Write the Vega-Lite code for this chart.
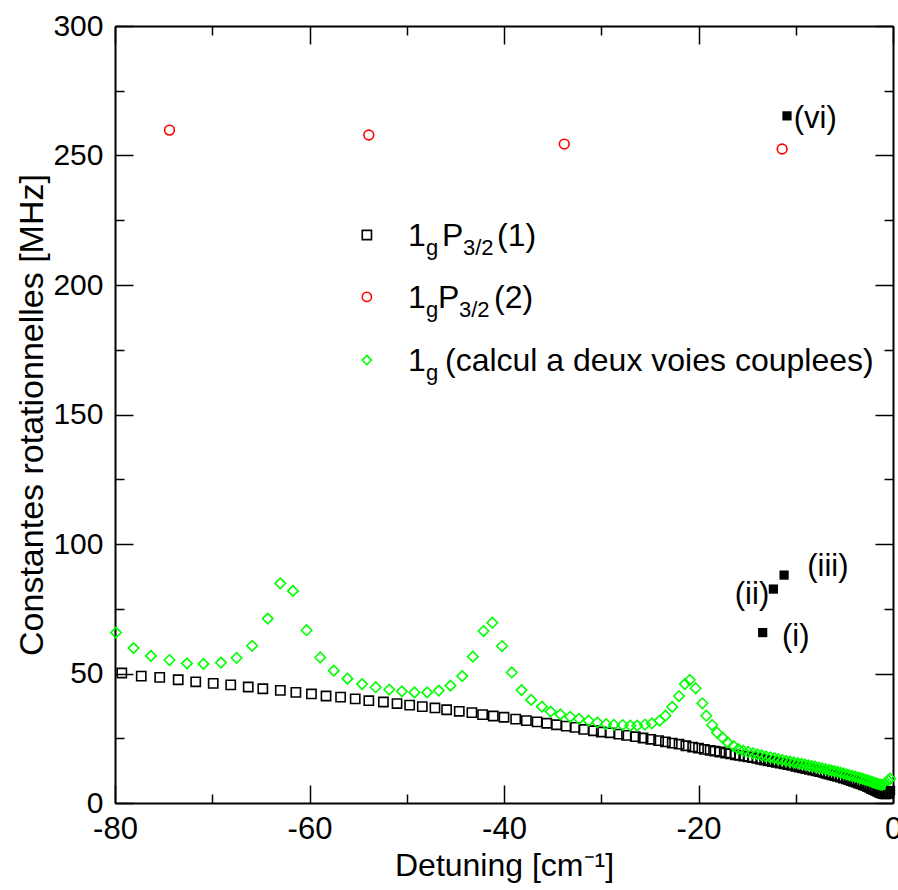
{
"$schema": "https://vega.github.io/schema/vega-lite/v6.json",
"width": 778, "height": 777,
"autosize": "none",
"padding": {"left": 115, "top": 26, "right": 5, "bottom": 87},
"background": "white",
"config": {"view": {"stroke": null}, "axis": {"grid": false, "labelFlush": false, "domainColor": "black", "tickColor": "black", "labelColor": "black", "titleColor": "black", "labelFont": "Liberation Sans", "titleFont": "Liberation Sans", "titleFontWeight": "normal"}},
"datasets": {
"black": [
{"x":-79.3,"y":50.2},{"x":-77.3,"y":49.0},{"x":-75.4,"y":48.5},{"x":-73.5,"y":47.6},{"x":-71.7,"y":46.8},{"x":-69.9,"y":46.2},{"x":-68.1,"y":45.6},{"x":-66.3,"y":44.8},{"x":-64.8,"y":44.1},{"x":-63.0,"y":43.5},{"x":-61.4,"y":42.7},{"x":-59.8,"y":42.1},{"x":-58.3,"y":41.3},{"x":-56.8,"y":40.9},{"x":-55.3,"y":40.2},{"x":-53.9,"y":39.5},{"x":-52.4,"y":39.0},{"x":-51.0,"y":38.4},{"x":-49.7,"y":37.8},{"x":-48.4,"y":37.2},{"x":-47.1,"y":36.7},{"x":-45.9,"y":36.0},{"x":-44.6,"y":35.4},{"x":-43.3,"y":34.9},
{"x":-42.2,"y":34.1},{"x":-41.1,"y":33.6},{"x":-40.0,"y":33.1},{"x":-38.8,"y":32.4},{"x":-37.7,"y":31.8},{"x":-36.6,"y":31.3},{"x":-35.6,"y":30.8},{"x":-34.6,"y":30.2},{"x":-33.6,"y":29.7},{"x":-32.7,"y":29.2},{"x":-31.8,"y":28.4},{"x":-30.8,"y":27.9},{"x":-30.0,"y":27.4},{"x":-29.1,"y":27.1},{"x":-28.2,"y":26.6},{"x":-27.4,"y":26.1},{"x":-26.5,"y":25.6},{"x":-25.7,"y":25.1},{"x":-24.9,"y":24.6},{"x":-24.1,"y":24.1},{"x":-23.4,"y":23.6},{"x":-22.7,"y":23.1},{"x":-22.0,"y":22.7},{"x":-21.3,"y":22.1},{"x":-20.6,"y":21.6},{"x":-20.0,"y":21.2},{"x":-19.4,"y":20.7},{"x":-18.8,"y":20.3},{"x":-18.3,"y":20.0},{"x":-17.8,"y":19.7},{"x":-17.2,"y":19.3},{"x":-16.7,"y":19.0},{"x":-16.2,"y":18.6},{"x":-15.8,"y":18.4},
{"x":-15.35,"y":18.1},{"x":-14.9,"y":17.8},{"x":-14.45,"y":17.5},{"x":-14.0,"y":17.2},{"x":-13.6,"y":16.9},{"x":-13.2,"y":16.6},{"x":-12.8,"y":16.3},{"x":-12.4,"y":16.0},{"x":-12.0,"y":15.7},{"x":-11.6,"y":15.4},{"x":-11.2,"y":15.1},{"x":-10.8,"y":14.8},{"x":-10.4,"y":14.5},{"x":-10.0,"y":14.2},{"x":-9.65,"y":13.9},{"x":-9.3,"y":13.6},{"x":-8.95,"y":13.3},{"x":-8.6,"y":13.0},{"x":-8.25,"y":12.7},{"x":-7.9,"y":12.4},{"x":-7.55,"y":12.1},{"x":-7.2,"y":11.8},{"x":-6.9,"y":11.5},{"x":-6.6,"y":11.2},{"x":-6.3,"y":10.9},{"x":-6.0,"y":10.6},{"x":-5.7,"y":10.3},{"x":-5.4,"y":10.0},{"x":-5.1,"y":9.6},{"x":-4.8,"y":9.3},{"x":-4.55,"y":9.0},{"x":-4.3,"y":8.7},{"x":-4.05,"y":8.4},{"x":-3.8,"y":8.1},{"x":-3.55,"y":7.7},{"x":-3.3,"y":7.4},{"x":-3.05,"y":7.0},{"x":-2.8,"y":6.7},{"x":-2.6,"y":6.3},{"x":-2.4,"y":6.0},{"x":-2.2,"y":5.6},{"x":-2.0,"y":5.3},{"x":-1.8,"y":4.9},{"x":-1.6,"y":4.6},{"x":-1.45,"y":4.3},{"x":-1.3,"y":4.0},{"x":-1.15,"y":3.8},{"x":-1.0,"y":3.6},{"x":-0.85,"y":3.5},{"x":-0.7,"y":3.5},{"x":-0.55,"y":3.7},{"x":-0.4,"y":4.1}
],
"green": [
{"x":-79.9,"y":65.8},{"x":-78.1,"y":59.8},{"x":-76.3,"y":56.8},{"x":-74.4,"y":55.2},{"x":-72.6,"y":53.9},{"x":-70.9,"y":53.7},{"x":-69.1,"y":54.2},{"x":-67.5,"y":56.0},{"x":-65.9,"y":60.7},{"x":-64.3,"y":71.2},{"x":-63.0,"y":84.8},{"x":-61.7,"y":81.9},{"x":-60.3,"y":66.7},{"x":-58.9,"y":56.2},{"x":-57.5,"y":51.1},{"x":-56.1,"y":48.0},{"x":-54.6,"y":45.9},{"x":-53.2,"y":44.7},{"x":-51.8,"y":43.8},{"x":-50.5,"y":43.1},{"x":-49.2,"y":42.7},{"x":-47.9,"y":42.7},{"x":-46.7,"y":43.4},{"x":-45.5,"y":45.3},{"x":-44.3,"y":49.0},{"x":-43.2,"y":56.5},{"x":-42.1,"y":66.4},{"x":-41.2,"y":69.6},{"x":-40.2,"y":60.6},{"x":-39.2,"y":50.4},{"x":-38.2,"y":43.6},{"x":-37.2,"y":39.8},{"x":-36.1,"y":37.2},{"x":-35.2,"y":35.3},{"x":-34.2,"y":34.2},{"x":-33.2,"y":33.3},{"x":-32.3,"y":32.5},{"x":-31.3,"y":31.8},{"x":-30.4,"y":31.1},{"x":-29.5,"y":30.5},{"x":-28.7,"y":30.2},{"x":-27.8,"y":30.1},{"x":-27.0,"y":29.9},{"x":-26.3,"y":29.9},{"x":-25.5,"y":30.3},{"x":-24.8,"y":30.7},{"x":-24.0,"y":31.8},{"x":-23.4,"y":33.7},{"x":-22.7,"y":37.1},{"x":-22.0,"y":41.3},{"x":-21.4,"y":45.9},{"x":-20.9,"y":47.5},{"x":-20.3,"y":44.3},{"x":-19.6,"y":38.5},{"x":-19.2,"y":33.7},{"x":-18.6,"y":30.1},{"x":-18.1,"y":27.2},{"x":-17.5,"y":25.1},{"x":-17.0,"y":23.4},{"x":-16.4,"y":22.0},{"x":-15.9,"y":20.8},
{"x":-15.4,"y":20.2},{"x":-14.9,"y":19.7},{"x":-14.4,"y":19.2},{"x":-13.95,"y":18.8},{"x":-13.5,"y":18.4},{"x":-13.05,"y":18.0},{"x":-12.6,"y":17.6},{"x":-12.2,"y":17.3},{"x":-11.8,"y":16.9},{"x":-11.4,"y":16.6},{"x":-11.0,"y":16.3},{"x":-10.6,"y":16.0},{"x":-10.2,"y":15.7},{"x":-9.8,"y":15.4},{"x":-9.4,"y":15.1},{"x":-9.05,"y":14.8},{"x":-8.7,"y":14.5},{"x":-8.35,"y":14.2},{"x":-8.0,"y":14.0},{"x":-7.65,"y":13.7},{"x":-7.3,"y":13.4},{"x":-6.95,"y":13.1},{"x":-6.6,"y":12.8},{"x":-6.3,"y":12.5},{"x":-6.0,"y":12.3},{"x":-5.7,"y":12.0},{"x":-5.4,"y":11.7},{"x":-5.1,"y":11.4},{"x":-4.8,"y":11.1},{"x":-4.5,"y":10.8},{"x":-4.2,"y":10.5},{"x":-3.9,"y":10.2},{"x":-3.6,"y":9.9},{"x":-3.35,"y":9.6},{"x":-3.1,"y":9.3},{"x":-2.85,"y":9.0},{"x":-2.6,"y":8.7},{"x":-2.35,"y":8.4},{"x":-2.1,"y":8.1},{"x":-1.9,"y":7.8},{"x":-1.7,"y":7.6},{"x":-1.5,"y":7.3},{"x":-1.3,"y":7.1},{"x":-1.1,"y":7.0},{"x":-0.9,"y":7.3},{"x":-0.7,"y":8.0},{"x":-0.5,"y":8.7},{"x":-0.3,"y":9.4}
],
"red": [{"x":-74.4,"y":259.8},{"x":-53.9,"y":257.9},{"x":-33.8,"y":254.4},{"x":-11.4,"y":252.5}],
"filled": [{"x":-10.9,"y":265.3},{"x":-11.2,"y":88.0},{"x":-12.3,"y":82.6},{"x":-13.4,"y":65.8},{"x":-0.25,"y":4.8}],
"labels": [{"x":-8.0,"y":264.1,"t":"(vi)"},{"x":-6.7,"y":91.1,"t":"(iii)"},{"x":-14.5,"y":80.3,"t":"(ii)"},{"x":-10.0,"y":64.1,"t":"(i)"}],
"legsym": [{"x":-54.1,"y":219.3,"series":"1gP3/2 (1)"},{"x":-54.1,"y":195.4,"series":"1gP3/2 (2)"},{"x":-54.1,"y":171.0,"series":"1g couple"}],
"legtext": [
{"x":-49.87,"y":215.1,"t":"1","kind":"main"},{"x":-48.02,"y":211.6,"t":"g","kind":"sub"},{"x":-46.38,"y":215.1,"t":"P","kind":"main"},{"x":-44.22,"y":211.6,"t":"3/2","kind":"sub"},{"x":-40.72,"y":215.1,"t":"(1)","kind":"main"},
{"x":-49.87,"y":191.1,"t":"1","kind":"main"},{"x":-48.02,"y":187.6,"t":"g","kind":"sub"},{"x":-46.79,"y":191.1,"t":"P","kind":"main"},{"x":-44.63,"y":187.6,"t":"3/2","kind":"sub"},{"x":-41.03,"y":191.1,"t":"(2)","kind":"main"},
{"x":-49.87,"y":166.8,"t":"1","kind":"main"},{"x":-48.02,"y":163.3,"t":"g","kind":"sub"},{"x":-46.07,"y":166.8,"t":"(calcul a deux voies couplees)","kind":"main"}
]
},
"layer": [
{"data": {"name": "black"},
 "mark": {"type": "point", "shape": "square", "filled": false, "stroke": "black", "strokeWidth": 1.6, "size": 85, "opacity": 1},
 "encoding": {
  "x": {"field": "x", "type": "quantitative", "scale": {"domain": [-80, 0], "nice": false, "zero": false},
        "axis": {"orient": "bottom", "values": [-80, -60, -40, -20, 0], "labelExpr": "replace(datum.label, '−', '-')", "tickSize": -18, "tickWidth": 1.5, "domainWidth": 2, "labelFontSize": 31, "labelPadding": 29, "title": "Detuning [cm⁻¹]", "titleFontSize": 32, "titlePadding": 6}},
  "y": {"field": "y", "type": "quantitative", "scale": {"domain": [0, 300], "nice": false, "zero": false},
        "axis": {"orient": "left", "values": [0, 50, 100, 150, 200, 250, 300], "tickSize": -18, "tickWidth": 1.5, "domainWidth": 2, "labelFontSize": 30, "labelPadding": 30, "title": "Constantes rotationnelles [MHz]", "titleFontSize": 34, "titlePadding": 3}}
 }},
{"data": {"name": "green"},
 "mark": {"type": "point", "shape": "diamond", "filled": false, "stroke": "#00ff00", "strokeWidth": 1.6, "size": 110, "opacity": 1},
 "encoding": {
  "x": {"field": "x", "type": "quantitative", "scale": {"domain": [-80, 0], "nice": false, "zero": false},
        "axis": {"orient": "top", "values": [-80, -60, -40, -20, 0], "tickSize": -18, "tickWidth": 1.5, "domainWidth": 2, "labels": false, "title": null}},
  "y": {"field": "y", "type": "quantitative", "scale": {"domain": [0, 300], "nice": false, "zero": false},
        "axis": {"orient": "right", "values": [0, 50, 100, 150, 200, 250, 300], "tickSize": -18, "tickWidth": 1.5, "domainWidth": 2, "labels": false, "title": null}}
 }},
{"data": {"name": "red"},
 "mark": {"type": "point", "shape": "circle", "filled": false, "stroke": "#ff0000", "strokeWidth": 1.6, "size": 95, "opacity": 1},
 "encoding": {
  "x": {"field": "x", "type": "quantitative", "scale": {"domain": [-80, 0], "nice": false, "zero": false},
        "axis": {"orient": "bottom", "values": [-70, -50, -30, -10], "tickSize": -9, "tickWidth": 1.5, "domain": false, "labels": false, "title": null}},
  "y": {"field": "y", "type": "quantitative", "scale": {"domain": [0, 300], "nice": false, "zero": false},
        "axis": {"orient": "left", "values": [25, 75, 125, 175, 225, 275], "tickSize": -9, "tickWidth": 1.5, "domain": false, "labels": false, "title": null}}
 }},
{"data": {"name": "filled"},
 "mark": {"type": "point", "shape": "square", "filled": true, "fill": "black", "size": 85, "opacity": 1},
 "encoding": {
  "x": {"field": "x", "type": "quantitative", "scale": {"domain": [-80, 0], "nice": false, "zero": false},
        "axis": {"orient": "top", "values": [-70, -50, -30, -10], "tickSize": -9, "tickWidth": 1.5, "domain": false, "labels": false, "title": null}},
  "y": {"field": "y", "type": "quantitative", "scale": {"domain": [0, 300], "nice": false, "zero": false},
        "axis": {"orient": "right", "values": [25, 75, 125, 175, 225, 275], "tickSize": -9, "tickWidth": 1.5, "domain": false, "labels": false, "title": null}}
 }},
{"data": {"name": "labels"},
 "mark": {"type": "text", "font": "Liberation Sans", "fontSize": 31, "align": "center", "baseline": "middle", "color": "black"},
 "encoding": {
  "x": {"field": "x", "type": "quantitative", "scale": {"domain": [-80, 0], "nice": false, "zero": false}, "axis": null},
  "y": {"field": "y", "type": "quantitative", "scale": {"domain": [0, 300], "nice": false, "zero": false}, "axis": null},
  "text": {"field": "t"}
 }},
{"data": {"name": "legsym"},
 "mark": {"type": "point", "filled": false, "strokeWidth": 1.6, "size": 85, "opacity": 1},
 "encoding": {
  "x": {"field": "x", "type": "quantitative", "scale": {"domain": [-80, 0], "nice": false, "zero": false}, "axis": null},
  "y": {"field": "y", "type": "quantitative", "scale": {"domain": [0, 300], "nice": false, "zero": false}, "axis": null},
  "shape": {"field": "series", "type": "nominal", "scale": {"domain": ["1gP3/2 (1)", "1gP3/2 (2)", "1g couple"], "range": ["square", "circle", "diamond"]}, "legend": null},
  "stroke": {"field": "series", "type": "nominal", "scale": {"domain": ["1gP3/2 (1)", "1gP3/2 (2)", "1g couple"], "range": ["black", "#ff0000", "#00ff00"]}, "legend": null}
 }},
{"data": {"name": "legtext"},
 "mark": {"type": "text", "font": "Liberation Sans", "align": "left", "baseline": "alphabetic", "color": "black"},
 "encoding": {
  "x": {"field": "x", "type": "quantitative", "scale": {"domain": [-80, 0], "nice": false, "zero": false}, "axis": null},
  "y": {"field": "y", "type": "quantitative", "scale": {"domain": [0, 300], "nice": false, "zero": false}, "axis": null},
  "size": {"field": "kind", "type": "nominal", "scale": {"domain": ["main", "sub"], "range": [32, 22]}, "legend": null},
  "text": {"field": "t"}
 }}
],
"resolve": {"axis": {"x": "independent", "y": "independent"}}
}
